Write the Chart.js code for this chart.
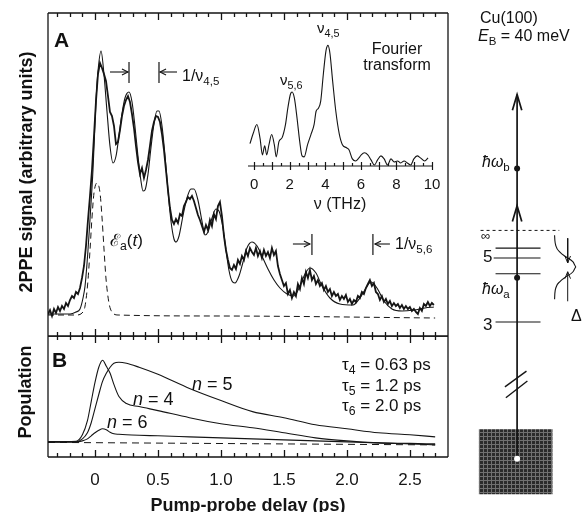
<!DOCTYPE html>
<html><head><meta charset="utf-8">
<script src="https://cdn.jsdelivr.net/npm/chart.js@4.4.1/dist/chart.umd.min.js"></script>
<style>
html,body{margin:0;padding:0;background:#fff;overflow:hidden}
#fig{position:relative;width:582px;height:512px;font-family:"Liberation Sans",Arial,Helvetica,sans-serif;color:#111}
canvas{position:absolute}
.t{position:absolute;white-space:nowrap;line-height:1}
.sub{font-size:0.72em;position:relative;top:0.32em}
</style></head><body>
<div id="fig">
<canvas id="cA" width="460" height="340" style="left:0;top:0;width:460px;height:340px"></canvas>
<canvas id="cIn" width="225" height="215" style="left:230px;top:0;width:225px;height:215px"></canvas>
<canvas id="cB" width="460" height="176" style="left:0;top:336px;width:460px;height:176px"></canvas>
<canvas id="cD" width="127" height="512" style="left:455px;top:0;width:127px;height:512px"></canvas>
</div>
<script>
// ---------------- data ----------------
const delayTickLabels = [0, 0.5, 1.0, 1.5, 2.0, 2.5];
const delayMin = -0.373, delayMax = 2.802;

// experimental 2PPE trace (sampled every ~0.016 ps from -0.373 ps)
const expDelayStart = -0.373, expDelayStep = 0.01587;
const expSignal = [
 22,26,20,27,23,29,25,30,27,33,
 30,36,40,38,44,42,48,58,70,90,
 116,140,166,200,235,262,273,268,262,255,
 240,224,220,210,192,194,206,220,230,236,
 240,234,222,208,190,174,162,168,158,166,
 176,190,205,214,220,219,214,202,186,166,
 146,128,116,112,117,113,122,120,130,134,
 139,137,140,135,128,121,116,110,104,111,
 106,116,110,122,117,130,134,120,100,86,
 76,68,66,71,67,76,72,80,76,85,
 80,88,84,81,88,80,85,78,86,80,
 84,78,88,81,85,70,62,56,50,53,
 42,46,38,44,40,52,47,58,52,64,
 58,66,56,60,52,56,50,53,46,50,
 44,47,40,44,40,42,36,40,37,41,
 34,37,32,36,34,40,38,44,42,48,
 52,56,50,53,44,42,36,40,34,37,
 32,35,30,33,30,32,28,31,27,30,
 27,29,25,27,24,22,28,25,32,30,
 34,30,33,31];

// model fit
const fitDelay = [-0.373,-0.198,-0.151,-0.119,-0.095,-0.079,-0.056,-0.040,-0.016,0.008,
 0.024,0.048,0.071,0.095,0.119,0.143,0.167,0.190,0.214,0.238,
 0.270,0.294,0.317,0.341,0.365,0.381,0.397,0.421,0.444,0.468,
 0.492,0.508,0.532,0.556,0.579,0.603,0.627,0.643,0.667,0.698,
 0.730,0.762,0.786,0.817,0.849,0.873,0.897,0.929,0.960,0.984,
 1.016,1.040,1.063,1.087,1.111,1.143,1.175,1.206,1.246,1.286,
 1.325,1.373,1.421,1.468,1.524,1.579,1.627,1.667,1.706,1.754,
 1.802,1.865,1.944,2.048,2.103,2.151,2.190,2.238,2.294,2.357,
 2.437,2.532,2.619,2.690];
const fitSignal = [22,22,24,27,38,50,85,116,166,235,
 265,285,262,225,190,173,180,200,222,238,
 244,234,210,180,155,145,146,162,188,212,
 225,225,210,180,146,115,97,94,100,120,
 138,147,147,136,115,101,104,118,127,125,
 108,86,66,55,53,60,74,88,94,90,
 80,67,56,48,42,40,50,62,68,63,
 50,38,32,31,38,48,54,48,35,27,
 25,26,28,29];

// pump pulse envelope
const pulseDelay = [-0.373,-0.15,-0.103,-0.079,-0.056,-0.040,-0.024,-0.008,0.016,0.040,0.056,0.071,0.087,0.111,0.135,0.183,1.0,2.70];
const pulseSignal = [21,21,23,30,55,85,118,143,153,143,118,88,58,33,24,21,20,18];

// period markers: [arrow tail, arrow tip, bar, level]
const periodMarks = [[0.119,0.262,0.270,264],[0.651,0.516,0.508,264],[1.571,1.706,1.722,92],[2.341,2.222,2.206,92]];

// Fourier transform inset
const freqTickLabels = [0,2,4,6,8,10];
const ftFreq = [-0.24,-0.06,0.15,0.33,0.46,0.59,0.70,0.83,0.98,1.13,1.24,1.39,1.57,1.76,1.89,2.04,2.13,2.26,2.41,2.56,2.69,2.81,3.0,3.19,3.37,3.48,3.61,3.74,3.89,4.04,4.15,4.26,4.41,4.59,4.78,4.96,5.19,5.33,5.52,5.7,5.89,6.02,6.2,6.39,6.57,6.76,6.94,7.13,7.31,7.5,7.69,7.87,8.06,8.24,8.43,8.61,8.8,8.98,9.17,9.35,9.59,9.78];
const ftAmplitude = [22,32,41,27,11,20,11,21,31,21,9,24,28,41,57,71,73,67,47,24,10,9,21,31,41,54,57,64,91,114,119,111,84,54,32,21,18,16,7,5,8,11,13,11,6,1,6,10,7,1,7,4,5,3,5,3,1,7,10,8,5,8];

// populations (panel B)
const popDelay = [-0.373,-0.15,-0.10,-0.06,-0.03,0.0,0.03,0.06,0.09,0.12,0.15,0.19,0.25,0.35,0.5,0.75,1.0,1.25,1.5,1.75,2.0,2.25,2.5,2.7];
const popN4 = [15,15.5,22,36,55,74,89,96,90,83,72,60,53,50,46,39,33,29,24,19,16,14,13,12];
const popN5 = [15,15,18,24,34,48,62,75,83,89,93,94,93,89,82,68,56,45,39,32,28,24,22,20];
const popN6 = [15,15,16,18,21,24,26.5,28,27,24.5,23,22.5,22,21.5,21,20,19,18,17,16,15,14,13.5,13];
const popBaseDelay = [-0.373,2.70];
const popBase = [14.5,12];

// energy diagram (diagram units)
const stemX = 62;
const stemEnds = [420, 50];
const photonDots = [345, 234];
const arrowTips = [420, 307];
const levelY = [264, 254, 238, 189];
const levelX = [[39,87],[37,87],[39,87],[39,87]];
const vacuumY = 282, vacuumX = [23,107];
const lineShapeY = [277,272,266,260,255,250,245,240,235,230,224,218,212];
const lineShapeX = [102,102.3,103.5,107.7,114.4,121.7,125,121.7,114.4,107.7,103.5,102.3,102];
const widthArrowX = 116;
const widthArrows = [[274,249],[210,240]];
const breakMarks = [[[49,123],[72,139]],[[50,112],[73,129]]];
const substrateBox = [21,100,14,80];

// ---------------- drawing ----------------
const INK = '#151515';
const FONT = '"Liberation Sans", Arial, Helvetica, sans-serif';
const xy = (xs, ys) => xs.map((x,i)=>({x:x, y:ys[i]}));
const line = (pts, o) => Object.assign({data:pts, borderColor:INK, borderWidth:1, pointRadius:0, fill:false, tension:0}, o||{});
const base = {responsive:false, animation:false, devicePixelRatio:1, events:[],
  elements:{point:{radius:0}}};

const framePlugin = {id:'frame', afterDraw(chart, args, o){
  const {ctx} = chart; const {left,right,top,bottom} = chart.chartArea; const xs = chart.scales.x;
  ctx.save(); ctx.strokeStyle = INK; ctx.lineWidth = 1.3; ctx.beginPath();
  if (o.top){ctx.moveTo(left,top);ctx.lineTo(right,top);}
  if (o.bottom){ctx.moveTo(left,bottom);ctx.lineTo(right,bottom);}
  if (o.left){ctx.moveTo(left,top);ctx.lineTo(left,bottom);}
  if (o.right){ctx.moveTo(right,top);ctx.lineTo(right,bottom);}
  for (let k=-3;k<=27;k++){
    const x = Math.round(xs.getPixelForValue(k/10))+0.5; const L = (k%5===0)?7:4;
    if (o.tickTop){ctx.moveTo(x,top);ctx.lineTo(x,top+L);}
    if (o.tickBottom){ctx.moveTo(x,bottom);ctx.lineTo(x,bottom-L);}
  }
  ctx.stroke(); ctx.restore();
}};

const insetAxisPlugin = {id:'insetAxis', afterDraw(chart){
  const {ctx} = chart; const {left,right,bottom} = chart.chartArea; const xs = chart.scales.x;
  ctx.save(); ctx.strokeStyle = INK; ctx.lineWidth = 1.2; ctx.beginPath();
  ctx.moveTo(left,bottom); ctx.lineTo(right,bottom);
  for (let k=0;k<=20;k++){
    const x = Math.round(xs.getPixelForValue(k/2))+0.5; const L = (k%2===0)?4:3;
    ctx.moveTo(x,bottom-L); ctx.lineTo(x,bottom+(k%2===0?4:0));
  }
  ctx.stroke(); ctx.restore();
}};

// markers for panel A
const markerSets = [];
periodMarks.forEach(([tail,tip,bar,lev])=>{
  const dir = tip>tail?1:-1; const hl = 0.048*dir;
  markerSets.push(line([{x:tail,y:lev},{x:tip,y:lev}],{borderWidth:1.1}));
  markerSets.push(line([{x:tip-hl,y:lev+3},{x:tip,y:lev},{x:tip-hl,y:lev-3}],{borderWidth:1.1}));
  markerSets.push(line([{x:bar,y:lev+10},{x:bar,y:lev-11}],{borderWidth:1.2}));
});

new Chart(document.getElementById('cA'), {type:'line',
  data:{datasets:[
    line(expSignal.map((v,i)=>({x:expDelayStart+i*expDelayStep, y:v})),{borderWidth:1.8}),
    line(xy(fitDelay,fitSignal),{borderWidth:1.1,cubicInterpolationMode:'monotone'}),
    line(xy(pulseDelay,pulseSignal),{borderWidth:1,borderDash:[6,4],cubicInterpolationMode:'monotone'}),
    ...markerSets]},
  options:Object.assign({}, base, {
    layout:{padding:{left:48,top:13,right:12,bottom:4}},
    scales:{x:{type:'linear',min:delayMin,max:delayMax,display:false},y:{min:0,max:323,display:false}},
    plugins:{legend:{display:false},tooltip:{enabled:false},
      frame:{top:true,bottom:true,left:true,right:true,tickTop:true,tickBottom:true}}}),
  plugins:[framePlugin]});

new Chart(document.getElementById('cIn'), {type:'line',
  data:{datasets:[line(xy(ftFreq,ftAmplitude),{borderWidth:1.1,cubicInterpolationMode:'monotone'})]},
  options:Object.assign({}, base, {
    layout:{padding:{left:18,top:20,right:23,bottom:0}},
    scales:{
      x:{type:'linear',min:-0.35,max:10,
        afterBuildTicks:a=>{a.ticks=freqTickLabels.map(v=>({value:v}));},
        grid:{display:false,drawTicks:false},border:{display:false},
        ticks:{color:INK,font:{family:FONT,size:15,lineHeight:1},padding:11,maxRotation:0,autoSkip:false},
        title:{display:true,text:'\u03BD (THz)',color:INK,font:{family:FONT,size:16,lineHeight:1},padding:{top:-6,bottom:2}}},
      y:{min:0,max:144,display:false}},
    plugins:{legend:{display:false},tooltip:{enabled:false}}}),
  plugins:[insetAxisPlugin]});

new Chart(document.getElementById('cB'), {type:'line',
  data:{datasets:[
    line(xy(popDelay,popN4),{borderWidth:1.1,cubicInterpolationMode:'monotone'}),
    line(xy(popDelay,popN5),{borderWidth:1.1,cubicInterpolationMode:'monotone'}),
    line(xy(popDelay,popN6),{borderWidth:1.1,cubicInterpolationMode:'monotone'}),
    line(xy(popBaseDelay,popBase),{borderWidth:1,borderDash:[7,5]})]},
  options:Object.assign({}, base, {
    layout:{padding:{left:48,top:0,right:12,bottom:0}},
    scales:{
      x:{type:'linear',min:delayMin,max:delayMax,
        afterBuildTicks:a=>{a.ticks=delayTickLabels.map(v=>({value:v}));},
        grid:{display:false,drawTicks:false},border:{display:false},
        ticks:{color:INK,font:{family:FONT,size:17,lineHeight:1},padding:15,maxRotation:0,autoSkip:false,
          callback:v=> v===0?'0':Number(v).toFixed(1)},
        title:{display:true,text:'Pump-probe delay (ps)',color:INK,font:{family:FONT,size:18,weight:'bold',lineHeight:1},padding:{top:-7,bottom:-3}}},
      y:{min:0,max:120,display:false}},
    plugins:{legend:{display:false},tooltip:{enabled:false},
      frame:{top:true,bottom:true,left:true,right:true,tickTop:true,tickBottom:true}}}),
  plugins:[framePlugin]});

// energy diagram
function hatch(){const c=document.createElement('canvas');c.width=4;c.height=4;const g=c.getContext('2d');
  g.fillStyle='#2a2a2a';g.fillRect(0,0,4,4);g.fillStyle='#707070';g.fillRect(0,0,4,1);g.fillRect(0,0,1,4);
  return g.createPattern(c,'repeat');}
const dSets = [];
dSets.push(line([{x:substrateBox[0],y:substrateBox[3]},{x:substrateBox[1],y:substrateBox[3]}],
  {borderWidth:0,fill:{value:substrateBox[2]},backgroundColor:hatch(),order:10}));
dSets.push(line([{x:stemX,y:stemEnds[0]},{x:stemX,y:stemEnds[1]}],{borderWidth:1.7,order:5}));
arrowTips.forEach(t=>dSets.push(line([{x:stemX-5,y:t-16},{x:stemX,y:t},{x:stemX+5,y:t-16}],{borderWidth:1.7,order:5})));
levelY.forEach((y,i)=>dSets.push(line([{x:levelX[i][0],y:y},{x:levelX[i][1],y:y}],{borderWidth:1.1,order:6})));
dSets.push(line([{x:vacuumX[0],y:vacuumY},{x:vacuumX[1],y:vacuumY}],{borderWidth:1,borderDash:[3,3],order:6}));
dSets.push(line(xy(lineShapeX,lineShapeY),{borderWidth:1.1,cubicInterpolationMode:'monotone',order:6}));
widthArrows.forEach(([a,b])=>{const d=b>a?1:-1;
  dSets.push(line([{x:widthArrowX,y:a},{x:widthArrowX,y:b}],{borderWidth:1,order:6}));
  dSets.push(line([{x:widthArrowX-3,y:b-7*d},{x:widthArrowX,y:b},{x:widthArrowX+3,y:b-7*d}],{borderWidth:1,order:6}));});
breakMarks.forEach(m=>dSets.push(line([{x:m[0][0],y:m[0][1]},{x:m[1][0],y:m[1][1]}],{borderWidth:1.4,order:4})));
dSets.push({type:'scatter',data:photonDots.map(y=>({x:stemX,y:y})),pointRadius:3,pointBackgroundColor:INK,pointBorderWidth:0,order:1});
dSets.push({type:'scatter',data:[{x:stemX,y:stemEnds[1]}],pointRadius:3,pointBackgroundColor:'#fff',pointBorderColor:'#fff',pointBorderWidth:0,order:0});

new Chart(document.getElementById('cD'), {type:'line',
  data:{datasets:dSets},
  options:Object.assign({}, base, {
    layout:{padding:0},
    scales:{x:{type:'linear',min:0,max:127,display:false},y:{min:0,max:512,display:false}},
    plugins:{legend:{display:false},tooltip:{enabled:false}}})});

// ---------------- text ----------------
const fig = document.getElementById('fig');
function addText(html, x, baseline, size, o){
  o = o||{};
  const d=document.createElement('div'); d.className='t'; d.innerHTML=html;
  d.style.fontSize=size+'px'; d.style.top=(baseline-0.8465*size)+'px'; d.style.left=x+'px';
  if(o.bold) d.style.fontWeight='bold';
  if(o.center) d.style.transform='translateX(-50%)';
  fig.appendChild(d);
}
function addRotated(text, cx, cy, size){
  const d=document.createElement('div'); d.className='t'; d.textContent=text;
  d.style.fontSize=size+'px'; d.style.fontWeight='bold'; d.style.width='320px'; d.style.textAlign='center';
  d.style.left=(cx-160)+'px'; d.style.top=(cy-size/2)+'px'; d.style.height=size+'px';
  d.style.transform='rotate(-90deg)'; fig.appendChild(d);
}
const S = t => '<span class="sub">'+t+'</span>';
addRotated('2PPE signal (arbitrary units)', 26, 172, 18);
addRotated('Population', 25, 392, 18);
addText('A', 54, 47, 21, {bold:true});
addText('B', 52, 367, 21, {bold:true});
addText('1/\u03BD'+S('4,5'), 182, 82, 16);
addText('1/\u03BD'+S('5,6'), 395, 250, 16);
addText('\u2130'+S('a')+'(<i>t</i>)', 110, 246, 17);
addText('Fourier', 397, 55, 16, {center:true});
addText('transform', 397, 71, 16, {center:true});
addText('\u03BD'+S('4,5'), 317, 33, 15);
addText('\u03BD'+S('5,6'), 280, 85, 15);
addText('\u03C4'+S('4')+' = 0.63 ps', 342, 370, 17);
addText('\u03C4'+S('5')+' = 1.2 ps', 342, 391, 17);
addText('\u03C4'+S('6')+' = 2.0 ps', 342, 411, 17);
addText('<i>n</i> = 5', 192, 390, 18);
addText('<i>n</i> = 4', 133, 405, 18);
addText('<i>n</i> = 6', 107, 428, 18);
addText('Cu(100)', 480, 24, 16);
addText('<i>E</i>'+S('B')+' = 40 meV', 478, 42, 16);
addText('<i>\u0127\u03C9</i>'+S('b'), 482, 168, 16);
addText('<i>\u0127\u03C9</i>'+S('a'), 482, 295, 16);
addText('\u221E', 481, 240, 13);
addText('5', 483, 262, 17);
addText('3', 483, 330, 17);
addText('\u0394<i>E</i>', 571, 322, 16);
</script>
</body></html>
